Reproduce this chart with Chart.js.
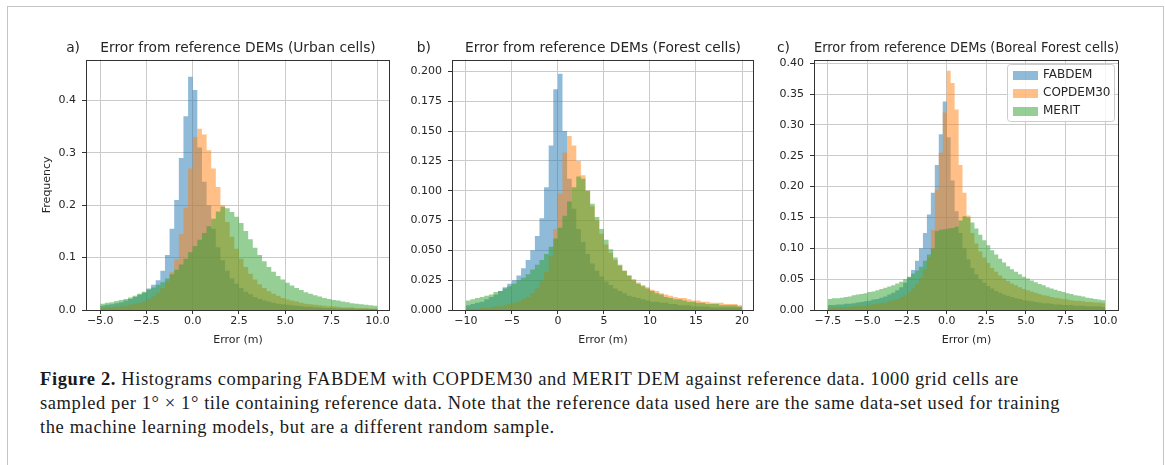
<!DOCTYPE html>
<html>
<head>
<meta charset="utf-8">
<title>Error from reference DEMs</title>
<script src="https://cdn.jsdelivr.net/npm/chart.js@4.4.1/dist/chart.umd.min.js"></script>
<style>
  html, body { margin: 0; padding: 0; background: #fff; }
  #page { position: relative; width: 1165px; height: 465px; overflow: hidden; background: #fff; }
  #frame { position: absolute; left: 7px; top: 6px; width: 1157px; height: 520px; border: 1px solid #c4c4c4; box-sizing: border-box; }
  .panel { position: absolute; top: 30px; height: 330px; }
  .panel canvas { display: block; }
  #caption { position: absolute; left: 40px; top: 367px; font-family: 'Liberation Serif', 'Times New Roman', serif; font-size: 18.5px; letter-spacing: 0.6px; line-height: 24px; color: #1a1a1a; white-space: nowrap; }
</style>
</head>
<body>
<div id="page">
  <div id="frame"></div>
  <div class="panel" style="left:0px;width:400px"><canvas id="chartA" width="400" height="330"></canvas></div>
  <div class="panel" style="left:390px;width:380px"><canvas id="chartB" width="380" height="330"></canvas></div>
  <div class="panel" style="left:760px;width:405px"><canvas id="chartC" width="405" height="330"></canvas></div>
  <div id="caption"><b>Figure 2.</b> Histograms comparing FABDEM with COPDEM30 and MERIT DEM against reference data. 1000 grid cells are<br>sampled per 1° × 1° tile containing reference data. Note that the reference data used here are the same data-set used for training<br>the machine learning models, but are a different random sample.</div>
</div>
<script>
// series names and colours (matplotlib tab10, alpha 0.5)
const seriesNames = ['FABDEM', 'COPDEM30', 'MERIT'];
const seriesColors = ['rgba(31, 119, 180, 0.5)', 'rgba(255, 127, 14, 0.5)', 'rgba(44, 160, 44, 0.5)'];

// a) Urban cells: bins of 0.25 m starting at -5 m
const binStartA = -5;
const binWidthA = 0.25;
const fabdemA = [
  0.008, 0.010, 0.011, 0.013, 0.015, 0.018, 0.021, 0.025, 0.029, 0.033,
  0.041, 0.048, 0.057, 0.075, 0.105, 0.155, 0.210, 0.290, 0.370, 0.445,
  0.420, 0.310, 0.245, 0.200, 0.155, 0.120, 0.095, 0.075, 0.060, 0.050,
  0.042, 0.035, 0.030, 0.025, 0.021, 0.018, 0.016, 0.014, 0.012, 0.011,
  0.010, 0.009, 0.008, 0.007, 0.006, 0.006, 0.005, 0.005, 0.004, 0.004,
  0.004, 0.003, 0.003, 0.003, 0.003, 0.002, 0.002, 0.002, 0.002, 0.002
];
const copdemA = [
  0.004, 0.005, 0.005, 0.006, 0.007, 0.008, 0.010, 0.012, 0.014, 0.017,
  0.021, 0.026, 0.033, 0.042, 0.055, 0.072, 0.097, 0.145, 0.195, 0.270,
  0.330, 0.346, 0.335, 0.305, 0.270, 0.235, 0.200, 0.168, 0.140, 0.117,
  0.098, 0.082, 0.069, 0.058, 0.049, 0.042, 0.036, 0.031, 0.027, 0.023,
  0.020, 0.018, 0.016, 0.014, 0.012, 0.011, 0.010, 0.009, 0.008, 0.007,
  0.007, 0.006, 0.005, 0.005, 0.005, 0.004, 0.004, 0.004, 0.003, 0.003
];
const meritA = [
  0.012, 0.014, 0.015, 0.017, 0.019, 0.021, 0.024, 0.027, 0.031, 0.035,
  0.039, 0.043, 0.048, 0.053, 0.060, 0.068, 0.077, 0.087, 0.098, 0.110,
  0.122, 0.134, 0.147, 0.160, 0.174, 0.188, 0.197, 0.194, 0.187, 0.178,
  0.166, 0.151, 0.135, 0.119, 0.105, 0.093, 0.082, 0.073, 0.065, 0.058,
  0.052, 0.047, 0.042, 0.038, 0.034, 0.031, 0.028, 0.026, 0.023, 0.021,
  0.019, 0.018, 0.016, 0.015, 0.013, 0.012, 0.011, 0.010, 0.009, 0.008
];
const xTicksA = [-5, -2.5, 0, 2.5, 5, 7.5, 10];
const yTicksA = [0, 0.1, 0.2, 0.3, 0.4];

// b) Forest cells: bins of 0.5 m starting at -10 m
const binStartB = -10;
const binWidthB = 0.5;
const fabdemB = [
  0.004, 0.005, 0.006, 0.007, 0.009, 0.011, 0.013, 0.016, 0.019, 0.022,
  0.025, 0.029, 0.035, 0.042, 0.050, 0.062, 0.077, 0.103, 0.138, 0.185,
  0.198, 0.150, 0.110, 0.085, 0.068, 0.057, 0.047, 0.039, 0.033, 0.028,
  0.024, 0.021, 0.018, 0.016, 0.014, 0.012, 0.011, 0.010, 0.009, 0.008,
  0.007, 0.007, 0.006, 0.006, 0.005, 0.005, 0.004, 0.004, 0.004, 0.003,
  0.003, 0.003, 0.003, 0.002, 0.002, 0.002, 0.002, 0.002, 0.002, 0.002
];
const copdemB = [
  0.001, 0.001, 0.001, 0.002, 0.002, 0.002, 0.003, 0.003, 0.004, 0.005,
  0.006, 0.007, 0.009, 0.011, 0.014, 0.018, 0.024, 0.032, 0.045, 0.068,
  0.098, 0.132, 0.146, 0.138, 0.125, 0.113, 0.100, 0.087, 0.075, 0.064,
  0.055, 0.048, 0.042, 0.037, 0.033, 0.029, 0.026, 0.023, 0.021, 0.019,
  0.017, 0.016, 0.014, 0.013, 0.012, 0.011, 0.010, 0.010, 0.009, 0.008,
  0.008, 0.007, 0.007, 0.006, 0.006, 0.006, 0.005, 0.005, 0.005, 0.004
];
const meritB = [
  0.008, 0.009, 0.010, 0.011, 0.012, 0.013, 0.015, 0.016, 0.018, 0.020,
  0.022, 0.025, 0.027, 0.030, 0.034, 0.038, 0.042, 0.047, 0.053, 0.060,
  0.069, 0.079, 0.091, 0.103, 0.112, 0.110, 0.100, 0.089, 0.078, 0.068,
  0.059, 0.051, 0.044, 0.038, 0.033, 0.029, 0.025, 0.022, 0.020, 0.018,
  0.016, 0.014, 0.013, 0.011, 0.010, 0.009, 0.009, 0.008, 0.007, 0.007,
  0.006, 0.006, 0.005, 0.005, 0.005, 0.004, 0.004, 0.004, 0.004, 0.003
];
const xTicksB = [-10, -5, 0, 5, 10, 15, 20];
const yTicksB = [0, 0.025, 0.05, 0.075, 0.1, 0.125, 0.15, 0.175, 0.2];

// c) Boreal Forest cells: bins of 0.25 m starting at -7.5 m
const binStartC = -7.5;
const binWidthC = 0.25;
const fabdemC = [
  0.008, 0.008, 0.009, 0.009, 0.010, 0.010, 0.011, 0.012, 0.013, 0.014,
  0.015, 0.017, 0.018, 0.020, 0.022, 0.025, 0.028, 0.032, 0.037, 0.044,
  0.053, 0.065, 0.080, 0.100, 0.125, 0.155, 0.190, 0.235, 0.285, 0.338,
  0.280, 0.210, 0.160, 0.125, 0.100, 0.082, 0.068, 0.058, 0.050, 0.044,
  0.039, 0.035, 0.031, 0.028, 0.025, 0.023, 0.021, 0.019, 0.018, 0.016,
  0.015, 0.014, 0.013, 0.012, 0.011, 0.011, 0.010, 0.009, 0.009, 0.008,
  0.008, 0.008, 0.007, 0.007, 0.007, 0.006, 0.006, 0.006, 0.006, 0.005
];
const copdemC = [
  0.004, 0.004, 0.004, 0.005, 0.005, 0.005, 0.006, 0.006, 0.007, 0.007,
  0.008, 0.009, 0.010, 0.011, 0.012, 0.014, 0.016, 0.018, 0.021, 0.024,
  0.029, 0.035, 0.042, 0.052, 0.066, 0.085, 0.130, 0.195, 0.255, 0.320,
  0.388, 0.368, 0.325, 0.235, 0.190, 0.153, 0.125, 0.108, 0.095, 0.085,
  0.076, 0.068, 0.062, 0.056, 0.051, 0.047, 0.043, 0.040, 0.037, 0.034,
  0.032, 0.030, 0.028, 0.026, 0.024, 0.023, 0.021, 0.020, 0.019, 0.018,
  0.017, 0.016, 0.015, 0.015, 0.014, 0.013, 0.013, 0.012, 0.012, 0.011
];
const meritC = [
  0.018, 0.019, 0.019, 0.020, 0.021, 0.022, 0.024, 0.025, 0.026, 0.027,
  0.029, 0.030, 0.032, 0.034, 0.036, 0.038, 0.040, 0.043, 0.046, 0.050,
  0.054, 0.059, 0.064, 0.070, 0.080, 0.090, 0.100, 0.128, 0.130, 0.131,
  0.132, 0.133, 0.135, 0.145, 0.152, 0.150, 0.142, 0.132, 0.122, 0.113,
  0.105, 0.097, 0.090, 0.083, 0.077, 0.071, 0.066, 0.062, 0.058, 0.054,
  0.051, 0.048, 0.045, 0.042, 0.040, 0.037, 0.035, 0.033, 0.031, 0.029,
  0.027, 0.026, 0.024, 0.023, 0.022, 0.020, 0.019, 0.018, 0.017, 0.016
];
const xTicksC = [-7.5, -5, -2.5, 0, 2.5, 5, 7.5, 10];
const yTicksC = [0, 0.05, 0.1, 0.15, 0.2, 0.25, 0.3, 0.35, 0.4];

const FONT = 'DejaVu Sans';
const TEXT = '#262626';
const TITLE_SIZE = 13.8;
const TITLE_PAD = { top: 10, bottom: 3 };

// bin edges -> points for a stepped, filled line (one extra point closes the last bin)
function toSteps(start, width, values) {
  const pts = values.map((v, i) => ({ x: start + i * width, y: v }));
  pts.push({ x: start + values.length * width, y: values[values.length - 1] });
  return pts;
}

function fmtTick(v, dec) {
  return v.toFixed(dec).replace('-', '\u2212');
}

// matplotlib-style box around the axes
const spines = {
  id: 'spines',
  afterDatasetsDraw(chart) {
    const { ctx, chartArea: a } = chart;
    const l = Math.round(a.left), t = Math.round(a.top);
    const r = Math.round(a.right), b = Math.round(a.bottom);
    ctx.save();
    ctx.strokeStyle = '#333';
    ctx.lineWidth = 1;
    ctx.strokeRect(l + 0.5, t + 0.5, r - l - 1, b - t);
    ctx.restore();
  }
};

// "a)", "b)", "c)" left of the title
const panelTag = {
  id: 'panelTag',
  afterDraw(chart, args, opts) {
    const { ctx, chartArea } = chart;
    const y = chart.titleBlock.top + TITLE_PAD.top + TITLE_SIZE * 0.6;
    ctx.save();
    ctx.font = TITLE_SIZE + 'px "' + FONT + '"';
    ctx.fillStyle = TEXT;
    ctx.textAlign = 'right';
    ctx.textBaseline = 'middle';
    ctx.fillText(opts.text, chartArea.left - opts.gap, y);
    ctx.restore();
  }
};

// framed legend in the upper right corner of the axes
const boxLegend = {
  id: 'boxLegend',
  afterDraw(chart, args, opts) {
    if (!opts.show) return;
    const { ctx, chartArea } = chart;
    const w = 107, h = 57;
    const x = Math.round(chartArea.right) - 5 - w;
    const y = Math.round(chartArea.top) + 4;
    ctx.save();
    ctx.fillStyle = 'rgba(255, 255, 255, 0.8)';
    ctx.strokeStyle = '#cccccc';
    ctx.lineWidth = 1;
    ctx.beginPath();
    ctx.roundRect(x + 0.5, y + 0.5, w, h, 3);
    ctx.fill();
    ctx.stroke();
    ctx.font = '12px "' + FONT + '"';
    ctx.textBaseline = 'middle';
    chart.data.datasets.forEach((ds, i) => {
      const cy = y + 11 + i * 18;
      ctx.fillStyle = ds.backgroundColor;
      ctx.fillRect(x + 6, cy - 4, 25, 9);
      ctx.fillStyle = TEXT;
      ctx.fillText(ds.label, x + 36, cy);
    });
    ctx.restore();
  }
};

function makePanel(canvasId, cfg) {
  const ctx = document.getElementById(canvasId).getContext('2d');
  const tickFont = { family: FONT, size: 11 };
  const grid = { color: '#cbcbcb', lineWidth: 1, tickColor: '#333', tickLength: 4 };
  return new Chart(ctx, {
    type: 'line',
    data: {
      datasets: seriesNames.map((name, i) => ({
        label: name,
        data: toSteps(cfg.binStart, cfg.binWidth, cfg.series[i]),
        backgroundColor: seriesColors[i],
        borderColor: 'transparent',
        borderWidth: 0,
        pointRadius: 0,
        stepped: 'before',
        fill: 'origin',
        order: seriesNames.length - i
      }))
    },
    options: {
      responsive: false,
      animation: false,
      events: [],
      layout: { padding: { left: 0, right: cfg.padRight, top: 0, bottom: 0 } },
      plugins: {
        legend: { display: false },
        tooltip: { enabled: false },
        title: {
          display: true,
          text: cfg.title,
          fullSize: false,
          color: TEXT,
          font: { family: FONT, size: TITLE_SIZE, weight: 'normal' },
          padding: TITLE_PAD
        },
        panelTag: { text: cfg.tag, gap: cfg.tagGap },
        boxLegend: { show: cfg.legend }
      },
      scales: {
        x: {
          type: 'linear',
          min: cfg.xMin,
          max: cfg.xMax,
          afterBuildTicks: s => { s.ticks = cfg.xTicks.map(v => ({ value: v })); },
          afterFit: s => { s.height = 50; },
          ticks: { callback: v => fmtTick(v, cfg.xDec), color: TEXT, font: tickFont, padding: 1, maxRotation: 0, autoSkip: false },
          grid: grid,
          border: { display: false },
          title: { display: true, text: 'Error (m)', color: TEXT, font: tickFont, padding: { top: 0, bottom: 13 } }
        },
        y: {
          type: 'linear',
          min: 0,
          max: cfg.yMax,
          afterBuildTicks: s => { s.ticks = cfg.yTicks.map(v => ({ value: v })); },
          afterFit: s => { s.width = cfg.yWidth; },
          ticks: { callback: v => fmtTick(v, cfg.yDec), color: TEXT, font: tickFont, padding: 6, autoSkip: false },
          grid: grid,
          border: { display: false },
          title: { display: !!cfg.yTitle, text: cfg.yTitle || '', color: TEXT, font: tickFont, padding: { top: 41, bottom: 0 } }
        }
      }
    },
    plugins: [spines, panelTag, boxLegend]
  });
}

makePanel('chartA', {
  title: 'Error from reference DEMs (Urban cells)', tag: 'a)', tagGap: 6,
  binStart: binStartA, binWidth: binWidthA, series: [fabdemA, copdemA, meritA],
  xMin: -5.77, xMax: 10.67, xTicks: xTicksA, xDec: 1,
  yMax: 0.478, yTicks: yTicksA, yDec: 1,
  yWidth: 86, padRight: 10, yTitle: 'Frequency', legend: false
});

makePanel('chartB', {
  title: 'Error from reference DEMs (Forest cells)', tag: 'b)', tagGap: 21,
  binStart: binStartB, binWidth: binWidthB, series: [fabdemB, copdemB, meritB],
  xMin: -11.5, xMax: 21.3, xTicks: xTicksB, xDec: 0,
  yMax: 0.21, yTicks: yTicksB, yDec: 3,
  yWidth: 62, padRight: 16, yTitle: '', legend: false
});

makePanel('chartC', {
  title: 'Error from reference DEMs (Boreal Forest cells)', tag: 'c)', tagGap: 24,
  binStart: binStartC, binWidth: binWidthC, series: [fabdemC, copdemC, meritC],
  xMin: -8.375, xMax: 10.875, xTicks: xTicksC, xDec: 1,
  yMax: 0.406, yTicks: yTicksC, yDec: 2,
  yWidth: 54, padRight: 46, yTitle: '', legend: true
});
</script>
</body>
</html>
